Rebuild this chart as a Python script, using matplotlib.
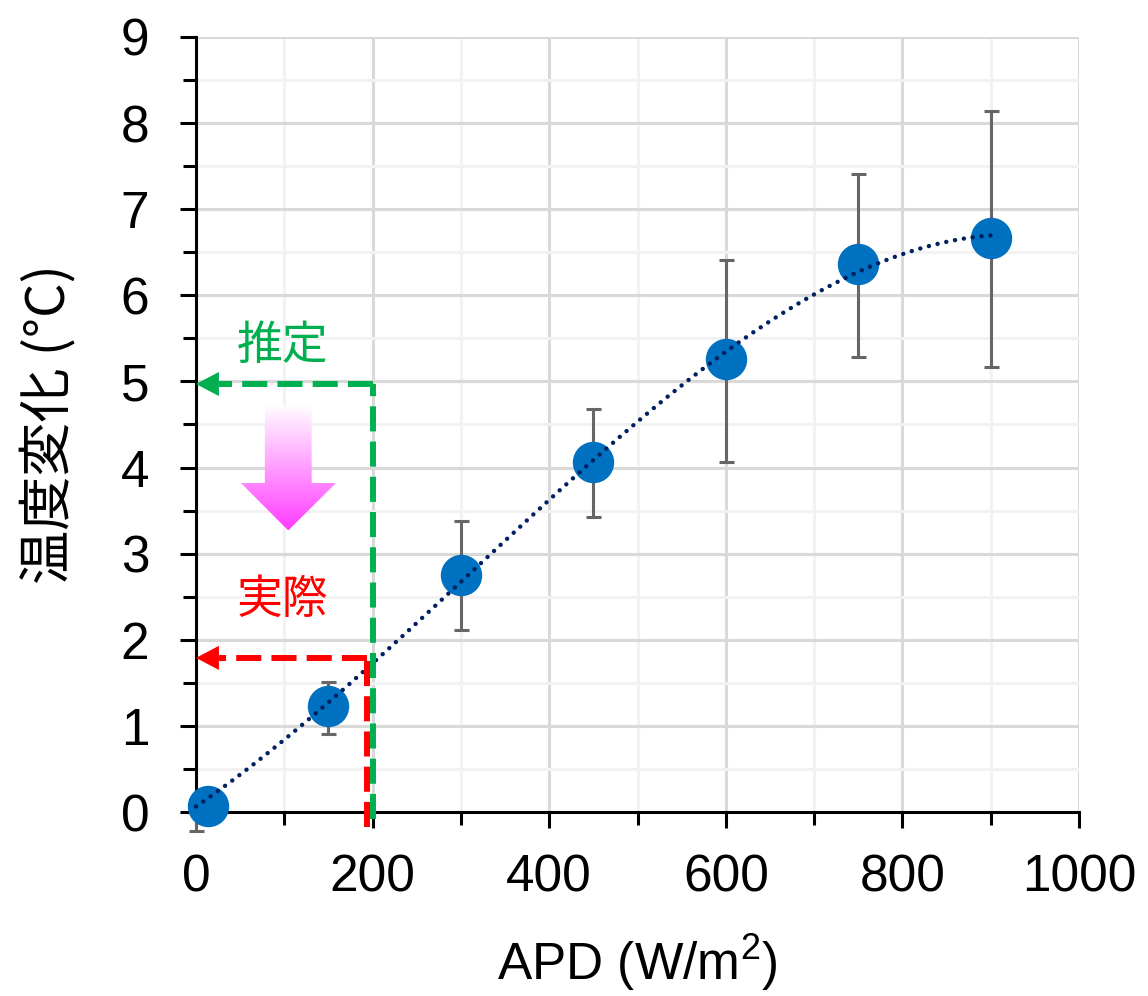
import numpy as np
import matplotlib
matplotlib.use("Agg")
import matplotlib.pyplot as plt
from matplotlib.patches import Polygon
from matplotlib.colors import LinearSegmentedColormap

plt.rcParams['font.family'] = ['Liberation Sans', 'Noto Sans CJK JP']
plt.rcParams['mathtext.fontset'] = 'custom'
plt.rcParams['mathtext.rm'] = 'Liberation Sans'
plt.rcParams['mathtext.default'] = 'regular'

# data
apd = [0, 150, 300, 450, 600, 750, 900]
marker_x = [14, 150, 300, 450, 600, 750, 900]
temp = [0.07, 1.23, 2.75, 4.07, 5.26, 6.36, 6.67]
err_lo = [0.29, 0.32, 0.64, 0.64, 1.19, 1.08, 1.50]
err_hi = [0.08, 0.28, 0.63, 0.61, 1.15, 1.05, 1.47]

# estimate / actual annotation values
est_x, est_y = 201, 4.97
act_x, act_y = 194, 1.79

fig = plt.figure(figsize=(11.48, 9.96), dpi=100)
ax = fig.add_axes([0.1707, 0.1847, 0.7693, 0.7782])

ax.set_xlim(0, 1000)
ax.set_ylim(0, 9)
ax.set_xticks(np.arange(0, 1001, 200))
ax.set_xticks(np.arange(100, 1000, 200), minor=True)
ax.set_yticks(np.arange(0, 10, 1))
ax.set_yticks(np.arange(0.5, 9, 1), minor=True)

ax.grid(which='major', color='#D9D9D9', lw=2.2, zorder=0)
ax.grid(which='minor', color='#F2F2F2', lw=2.2, zorder=0)
ax.set_axisbelow(True)
for s in ['top', 'right']:
    ax.spines[s].set_visible(False)
for s in ['left', 'bottom']:
    ax.spines[s].set_linewidth(2.2)
ax.tick_params(which='major', length=11.5, width=2.2, labelsize=37)
ax.tick_params(which='minor', length=9.4, width=2.2)
ax.tick_params(axis='y', pad=22)
ax.tick_params(axis='x', pad=18)

# error bars + points
ax.errorbar(apd, temp, yerr=[err_lo, err_hi], fmt='none', ecolor='#666666',
            elinewidth=2.2, capsize=5.4, capthick=2.2, zorder=3, clip_on=False)
ax.plot(marker_x, temp, 'o', color='#0070C0', ms=28.8, zorder=4, clip_on=False)

# polynomial trendline (order 3)
coef = np.polyfit(apd, temp, 3)
xt = np.linspace(0, 900, 300)
ax.plot(xt, np.polyval(coef, xt), color='#002060', lw=3.2,
        linestyle=(0, (0.01, 2.0)), dash_capstyle='round', zorder=5, clip_on=False)

# dashed guide lines with arrow heads
head_len, head_w = 26, 0.14
for xv, yv, col, ybot in [(est_x, est_y, '#00B050', -0.08), (act_x, act_y, '#FF0000', -0.17)]:
    ax.plot([xv, xv], [ybot, yv], color=col, lw=4.3, linestyle=(0, (4.2, 1.7)),
            zorder=6, clip_on=False)
    ax.plot([xv, head_len], [yv, yv], color=col, lw=4.3, linestyle=(0, (4.2, 1.7)),
            zorder=6, clip_on=False)
    ax.add_patch(Polygon([[0, yv], [head_len, yv + head_w], [head_len, yv - head_w]],
                         closed=True, color=col, lw=0, zorder=6, clip_on=False))

ax.text(98, 5.42, '推定', color='#00B050', fontsize=33, ha='center', va='center',
        family=['Noto Sans CJK JP'])
ax.text(98, 2.47, '実際', color='#FF0000', fontsize=33, ha='center', va='center',
        family=['Noto Sans CJK JP'])

# pink gradient block arrow
arrow = Polygon([[78, 4.73], [131, 4.73], [131, 3.82], [158.5, 3.82], [104.5, 3.27],
                 [51, 3.82], [78, 3.82]], closed=True, facecolor='none', edgecolor='none')
ax.add_patch(arrow)
cmap = LinearSegmentedColormap.from_list('pk', ['#FFFFFF', '#FF3CFF'])
grad = np.linspace(0, 1, 256).reshape(-1, 1)
im = ax.imshow(grad, cmap=cmap, extent=[51, 158.5, 3.27, 4.73], origin='upper',
               aspect='auto', zorder=2)
im.set_clip_path(arrow)

ax.set_xlabel('APD (W/m$^2$)', fontsize=37, labelpad=22)
ax.set_ylabel('温度変化 (°C)', fontsize=39, family=['Noto Sans CJK JP'], labelpad=32)

fig.savefig('out.png', dpi=100)
